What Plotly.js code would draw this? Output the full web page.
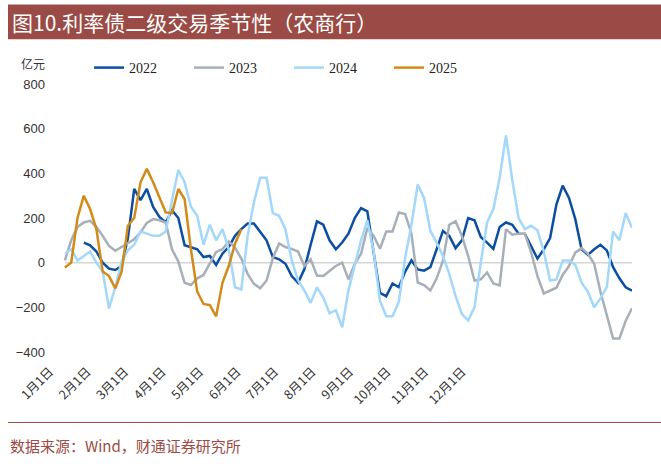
<!DOCTYPE html>
<html>
<head>
<meta charset="utf-8">
<script src="https://cdn.plot.ly/plotly-3.0.1.min.js"></script>
<style>
  html, body { margin: 0; padding: 0; background: #fff; }
  #chart { width: 661px; height: 469px; }
</style>
</head>
<body>
<div id="chart"></div>
<script>
"use strict";

// month labels on the category axis
const monthLabels = ["1月1日", "2月1日", "3月1日", "4月1日", "5月1日", "6月1日",
    "7月1日", "8月1日", "9月1日", "10月1日", "11月1日", "12月1日"];

// net secondary purchases, 亿元 (one point every ~4 days)
const s2022 = [null, null, null, 90, 78, 50, 0, -27, -33, -15,
    110, 330, 280, 330, 250, 205, 180, 235, 200, 78,
    70, 60, 25, 30, -10, 40, 70, 120, 150, 175,
    175, 135, 100, 25, 15, -5, -60, -90, -30, 80,
    185, 170, 100, 60, 90, 130, 200, 244, 230, 45,
    -135, -150, -93, -110, -40, 10, -30, -36, -20, 60,
    142, 120, 65, 100, 200, 190, 115, 90, 62, 160,
    180, 170, 130, 129, 70, 18, 60, 110, 260, 345,
    290, 195, 60, 35, 60, 80, 55, -20, -70, -110,
    -125];

const s2023 = [10, 100, 160, 180, 187, 160, 120, 75, 53, 70,
    85, 105, 135, 178, 195, 190, 180, 60, 5, -90,
    -100, -70, -55, 0, 48, 60, 95, 67, 18, -50,
    -95, -115, -80, 20, 86, 70, 62, 50, -15, 15,
    -58, -60, -36, -15, 0, -75, -5, 40, 156, 120,
    62, 140, 140, 225, 218, 129, -89, -100, -125, -70,
    9, 170, 185, 120, 30, -80, -75, -44, -93, -102,
    150, 125, 130, 130, 45, -60, -138, -125, -112, -55,
    -15, 45, 65, 40, -5, -130, -240, -340, -340, -260,
    -204];

const s2024 = [40, 60, 10, 30, 50, 0, -40, -205, -110, 5,
    55, 80, 140, 130, 120, 120, 140, 280, 415, 360,
    250, 210, 80, 170, 100, 150, 60, -110, -120, 120,
    270, 380, 380, 222, 210, 150, 10, -80, -124, -180,
    -111, -155, -227, -213, -290, -124, -5, 100, 190, 50,
    -170, -240, -240, -175, 22, 170, 350, 290, 142, 90,
    30, -50, -150, -230, -258, -200, 0, 180, 240, 380,
    570, 370, 200, 150, 165, 145, 50, -80, -75, 10,
    10, -10, -90, -130, -200, -160, -110, 140, 100, 222,
    156];

const s2025 = [-22, 0, 200, 300, 240, 150, -40, -60, -115, -40,
    165, 200, 360, 420, 360, 290, 225, 222, 330, 285,
    60, -130, -185, -190, -240, -90, -15, 85, 150];

const yTicks = [-400, -200, 0, 200, 400, 600, 800];

const seriesNames = ["2022", "2023", "2024", "2025"];
const seriesColors = ["#0B4EA2", "#A7AFB9", "#A3D8FB", "#D28A18"];

// plot area in pixels, used to place the header bar and footer
const W = 661, H = 469;
const M = { l: 46, r: 29, t: 82, b: 117 };
const xp = px => (px - M.l) / (W - M.l - M.r);
const yp = py => (H - M.b - py) / (H - M.t - M.b);

const idx = s2022.map((_, i) => i);
// one label every 6 points, shifted a little left as in the source chart
const tickPos = monthLabels.map((_, k) => -2.4 + 5.95 * k);

const data = [s2022, s2023, s2024, s2025].map((s, i) => ({
    type: "scatter",
    mode: "lines",
    name: seriesNames[i],
    x: idx.slice(0, s.length),
    y: s,
    line: { color: seriesColors[i], width: 2.5 },
    hoverinfo: "skip",
}));

const brick = "#9B4B45";

const layout = {
    width: W,
    height: H,
    margin: M,
    paper_bgcolor: "#fff",
    plot_bgcolor: "#fff",
    showlegend: true,
    legend: {
        orientation: "h",
        xref: "container",
        yref: "container",
        x: 89 / W,
        y: 1 - 52 / H,
        xanchor: "left",
        yanchor: "top",
        entrywidth: 55,
        font: { family: "Liberation Serif", size: 14, color: "#222" },
        bgcolor: "rgba(0,0,0,0)",
    },
    xaxis: {
        range: [-3, 90],
        tickvals: tickPos,
        ticktext: monthLabels,
        tickangle: -45,
        ticklabelstandoff: 9,
        showgrid: false,
        zeroline: false,
        showline: false,
        ticks: "",
        tickfont: { family: "Noto Sans CJK SC", size: 12.5, color: "#333" },
    },
    yaxis: {
        range: [-400, 800],
        tickvals: yTicks,
        showgrid: false,
        zeroline: false,
        showline: false,
        ticks: "",
        tickfont: { family: "Liberation Sans", size: 13, color: "#333" },
    },
    shapes: [
        // zero line
        {
            type: "line", xref: "x", yref: "y", layer: "below",
            x0: 0, x1: s2022.length - 1, y0: 0, y1: 0,
            line: { color: "#D6D6D6", width: 1.5 },
        },
        // header bar
        {
            type: "rect", xref: "paper", yref: "paper",
            x0: xp(8), x1: xp(661), y0: yp(37), y1: yp(2),
            fillcolor: brick, line: { width: 0 },
        },
        // footer rule
        {
            type: "line", xref: "paper", yref: "paper",
            x0: xp(8), x1: xp(661), y0: yp(423), y1: yp(423),
            line: { color: brick, width: 1 },
        },
    ],
    annotations: [
        {
            text: "图10.利率债二级交易季节性（农商行）",
            xref: "paper", yref: "paper", x: xp(10), y: yp(20),
            xanchor: "left", yanchor: "middle", showarrow: false,
            font: { family: "Noto Sans CJK SC", size: 21, color: "#fff" },
        },
        {
            text: "亿元",
            xref: "paper", yref: "paper", x: xp(19), y: yp(61),
            xanchor: "left", yanchor: "middle", showarrow: false,
            font: { family: "Noto Sans CJK SC", size: 12, color: "#333" },
        },
        {
            text: "数据来源：Wind，财通证券研究所",
            xref: "paper", yref: "paper", x: xp(8), y: yp(446),
            xanchor: "left", yanchor: "middle", showarrow: false,
            font: { family: "Noto Sans CJK SC", size: 15, color: brick },
        },
    ],
};

Plotly.newPlot("chart", data, layout, { displayModeBar: false, staticPlot: true });
</script>
</body>
</html>
